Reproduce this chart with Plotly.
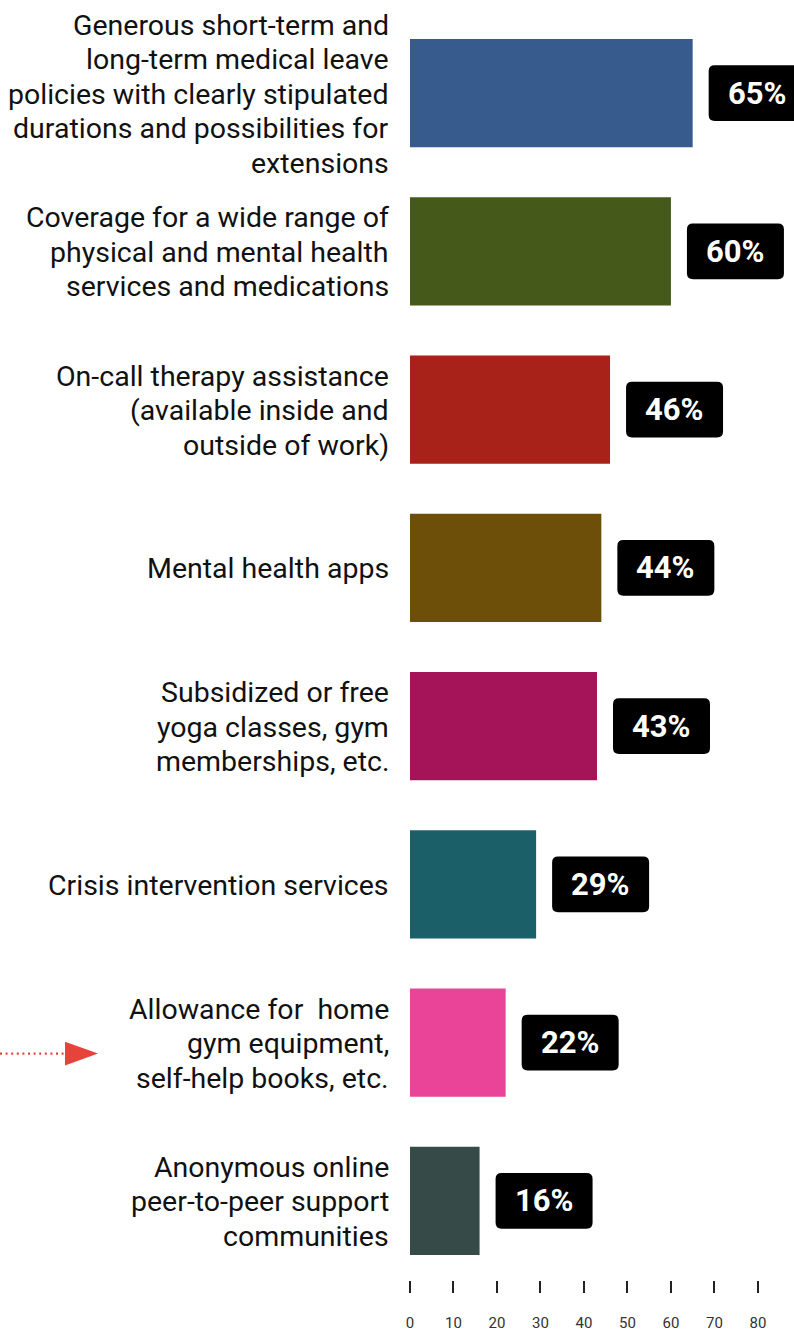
import plotly.graph_objects as go

# Benefit categories (top to bottom) and share of respondents (%)
categories = [
    ["Generous short-term and", "long-term medical leave", "policies with clearly stipulated",
     "durations and possibilities for", "extensions"],
    ["Coverage for a wide range of", "physical and mental health", "services and medications"],
    ["On-call therapy assistance", "(available inside and", "outside of work)"],
    ["Mental health apps"],
    ["Subsidized or free", "yoga classes, gym", "memberships, etc."],
    ["Crisis intervention services"],
    ["Allowance for\u00a0 home", "gym equipment,", "self-help books, etc."],
    ["Anonymous online", "peer-to-peer support", "communities"],
]
values = [65, 60, 46, 44, 43, 29, 22, 16]
bar_colors = ["#365b8c", "#45591b", "#a82219", "#6e4f0a",
              "#a51459", "#1b5f68", "#ea4499", "#364a47"]
tick_values = [0, 10, 20, 30, 40, 50, 60, 70, 80]
highlight_index = 6  # row pointed at by the red arrow

W, H = 794, 1332
M_L, M_R, M_T, M_B = 410, 0, 14, 49
X_MAX = 88.3
plot_w = W - M_L - M_R
plot_h = H - M_T - M_B
n = len(categories)
px_per_x = plot_w / X_MAX
px_per_y = plot_h / n

fig = go.Figure(go.Bar(
    x=values,
    y=list(range(n)),
    orientation="h",
    marker=dict(color=bar_colors, line=dict(width=0)),
    width=0.685,
    hoverinfo="skip",
))

shapes = []
annotations = []

# Category labels, right-aligned in the left margin, one line at a time
LINE_H = 34.5
label_right_px = 391
for i, lines in enumerate(categories):
    m = len(lines)
    for k, line in enumerate(lines):
        annotations.append(dict(
            x=(label_right_px - M_L) / plot_w, xref="paper", xanchor="right",
            y=i, yref="y", yanchor="middle",
            yshift=-(k - (m - 1) / 2) * LINE_H - 1,
            text=line, showarrow=False, align="right",
            font=dict(family="Roboto", size=28.5, color="#111111"),
        ))

# Rounded black value badges to the right of each bar
gap_px, box_w_px, box_h_px, r_px = 16, 97, 56, 6
rx, ry = r_px / px_per_x, r_px / px_per_y
for i, v in enumerate(values):
    x0 = v + gap_px / px_per_x
    x1 = x0 + box_w_px / px_per_x
    y0 = i - box_h_px / 2 / px_per_y
    y1 = i + box_h_px / 2 / px_per_y
    path = (f"M {x0 + rx} {y0} L {x1 - rx} {y0} Q {x1} {y0} {x1} {y0 + ry} "
            f"L {x1} {y1 - ry} Q {x1} {y1} {x1 - rx} {y1} "
            f"L {x0 + rx} {y1} Q {x0} {y1} {x0} {y1 - ry} "
            f"L {x0} {y0 + ry} Q {x0} {y0} {x0 + rx} {y0} Z")
    shapes.append(dict(type="path", path=path, xref="x", yref="y",
                       fillcolor="#000000", line=dict(width=0), layer="above"))
    annotations.append(dict(
        x=(x0 + x1) / 2, y=i, xref="x", yref="y", text=f"<b>{v}%</b>",
        showarrow=False, xanchor="center", yanchor="middle",
        font=dict(family="Roboto", size=31, color="#ffffff"),
    ))

# Red dotted pointer in the left margin
def paper_x(px):
    return (px - M_L) / plot_w

def paper_y(py):
    return (H - M_B - py) / plot_h

arrow_y = M_T + (highlight_index + 0.5) * px_per_y + 11
shapes.append(dict(type="line", xref="paper", yref="paper",
                   x0=paper_x(0), x1=paper_x(64), y0=paper_y(arrow_y), y1=paper_y(arrow_y),
                   line=dict(color="#e8433a", width=2.2, dash="2px,3.6px")))
shapes.append(dict(type="path", xref="paper", yref="paper",
                   path=(f"M {paper_x(65)} {paper_y(arrow_y - 12)} "
                         f"L {paper_x(98)} {paper_y(arrow_y)} "
                         f"L {paper_x(65)} {paper_y(arrow_y + 12)} Z"),
                   fillcolor="#e8433a", line=dict(width=0)))

fig.update_layout(
    width=W, height=H,
    margin=dict(l=M_L, r=M_R, t=M_T, b=M_B, pad=0),
    paper_bgcolor="#ffffff", plot_bgcolor="#ffffff",
    showlegend=False,
    shapes=shapes,
    annotations=annotations,
    font=dict(family="Roboto", color="#111111"),
    xaxis=dict(
        range=[0, X_MAX], tickvals=tick_values, ticktext=[str(t) for t in tick_values],
        showgrid=False, zeroline=False, showline=False,
        ticks="outside", ticklen=12, tickwidth=2, tickcolor="#222222",
        tickfont=dict(family="Roboto", size=15, color="#333333"),
        ticklabelstandoff=17, fixedrange=True,
    ),
    yaxis=dict(
        range=[n - 0.5, -0.5], showticklabels=False,
        showgrid=False, zeroline=False, showline=False, ticks="",
        fixedrange=True,
    ),
)

fig.write_html("out.html", config={"displayModeBar": False})
